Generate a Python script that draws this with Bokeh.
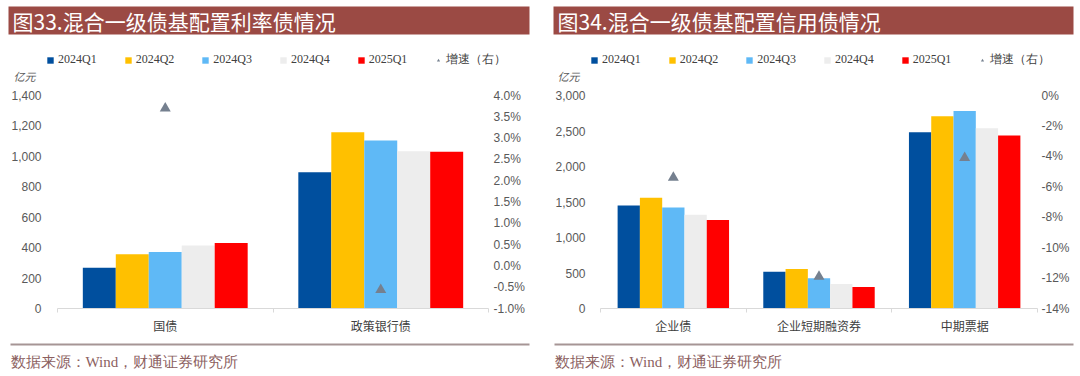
from bokeh.plotting import figure
from bokeh.models import (Range1d, LinearAxis, FixedTicker, Legend, LegendItem, Label,
                          BoxAnnotation, PrintfTickFormatter, NumeralTickFormatter,
                          ColumnDataSource)
from bokeh.layouts import row, column
from bokeh.embed import file_html
from bokeh.resources import INLINE

# ---------------- data ----------------
series_names = ["2024Q1", "2024Q2", "2024Q3", "2024Q4", "2025Q1"]
growth_name = "增速（右）"
series_colors = ["#004F9E", "#FFC000", "#5FB9F6", "#EDEDED", "#FF0000"]
growth_color = "#75808F"

rate_title = "图33.混合一级债基配置利率债情况"
rate_categories = ["国债", "政策银行债"]
rate_2024q1 = [268, 895]
rate_2024q2 = [357, 1159]
rate_2024q3 = [372, 1104]
rate_2024q4 = [414, 1034]
rate_2025q1 = [431, 1030]
rate_growth = [3.70, -0.56]
rate_left_ticks = [0, 200, 400, 600, 800, 1000, 1200, 1400]
rate_right_ticks = [-1.0, -0.5, 0.0, 0.5, 1.0, 1.5, 2.0, 2.5, 3.0, 3.5, 4.0]

credit_title = "图34.混合一级债基配置信用债情况"
credit_categories = ["企业债", "企业短期融资券", "中期票据"]
credit_2024q1 = [1451, 518, 2483]
credit_2024q2 = [1559, 555, 2707]
credit_2024q3 = [1423, 425, 2781]
credit_2024q4 = [1321, 345, 2539]
credit_2025q1 = [1246, 303, 2436]
credit_growth = [-5.4, -11.9, -4.1]
credit_left_ticks = [0, 500, 1000, 1500, 2000, 2500, 3000]
credit_right_ticks = [-14, -12, -10, -8, -6, -4, -2, 0]

unit_label = "亿元"
source_text = "数据来源：Wind，财通证券研究所"

TITLE_BG = "#9B4A44"
TICK_COLOR = "#595959"
AXIS_COLOR = "#D9D9D9"
BAR_W = 0.153
W = 540
HEAD_H, CHART_H, FOOT_H = 85, 251, 40
NAN = float("nan")


def blank_fig(h):
    f = figure(width=W, height=h, x_range=Range1d(0, W), y_range=Range1d(h, 0),
               x_axis_location=None, y_axis_location=None, toolbar_location=None,
               output_backend="svg", min_border=0, min_border_left=0, min_border_right=0,
               min_border_top=0, min_border_bottom=0, background_fill_color="white",
               border_fill_color="white", outline_line_color=None, frame_align=False)
    f.xgrid.visible = False
    f.ygrid.visible = False
    return f


def make_panel(title, cats, series, growth, left_ticks, right_ticks, right_fmt,
               head_l, head_r, frame_l, frame_r, foot_l, foot_r, std_l, std_r, leg_x, unit_x):
    # ---- header: title bar, legend, unit ----
    h = blank_fig(HEAD_H)
    h.add_layout(BoxAnnotation(left=head_l, right=head_r, top=6, bottom=34,
                               fill_color=TITLE_BG, fill_alpha=1.0, line_color=None))
    h.add_layout(Label(x=head_l + 4, y=20, text=title,
                       text_color="white", text_font_size="21px", text_font="Noto Sans CJK SC",
                       text_baseline="middle"))
    h.add_layout(Label(x=unit_x, y=75, text=unit_label, text_font="Noto Sans CJK SC",
                       text_font_size="11px", text_font_style="italic",
                       text_color=TICK_COLOR, text_baseline="middle"))
    # legend swatches (a single empty point; they only carry the series styles)
    proxies = [h.vbar(x=[NAN], top=[NAN], width=1, fill_color=c, line_color=None)
               for c in series_colors]
    gproxy = h.scatter(x=[NAN], y=[NAN], marker="triangle", size=8,
                       fill_color=growth_color, line_color=None)
    items = [LegendItem(label=nm, renderers=[r]) for nm, r in zip(series_names, proxies)]
    items.append(LegendItem(label=growth_name, renderers=[gproxy]))
    leg = Legend(items=items, orientation="horizontal", location=(leg_x, HEAD_H - 68),
                 glyph_width=8, glyph_height=8, label_height=14, label_standoff=4,
                 spacing=27, padding=0, margin=0, border_line_color=None,
                 background_fill_alpha=0, label_text_font="Liberation Serif",
                 label_text_font_size="12px", label_text_color="#404040")
    h.add_layout(leg, "center")

    # ---- chart ----
    n = len(cats)
    p = figure(width=W, height=CHART_H, x_range=Range1d(0, n),
               y_range=Range1d(left_ticks[0], left_ticks[-1]),
               toolbar_location=None, output_backend="svg",
               min_border_left=frame_l, min_border_right=W - frame_r,
               min_border_top=10, min_border_bottom=27,
               background_fill_color="white", border_fill_color="white",
               outline_line_color=None)
    p.extra_y_ranges = {"pct": Range1d(right_ticks[0], right_ticks[-1])}
    p.xgrid.visible = False
    p.ygrid.visible = False

    centers = [i + 0.5 for i in range(n)]
    for k, (vals, col) in enumerate(zip(series, series_colors)):
        src = ColumnDataSource(dict(x=[c + (k - 2) * BAR_W for c in centers], top=vals))
        p.vbar(x="x", top="top", bottom=0, width=BAR_W, source=src,
               fill_color=col, line_color=None)
    gsrc = ColumnDataSource(dict(x=centers, y=growth))
    p.scatter(x="x", y="y", source=gsrc, y_range_name="pct", marker="triangle",
              size=11, fill_color=growth_color, line_color=None)

    xa = p.xaxis[0]
    xa.ticker = FixedTicker(ticks=centers, minor_ticks=list(range(n + 1)))
    xa.major_label_overrides = {c: lab for c, lab in zip(centers, cats)}
    xa.axis_line_color = AXIS_COLOR
    xa.major_tick_line_color = None
    xa.major_tick_out = 0
    xa.minor_tick_line_color = AXIS_COLOR
    xa.minor_tick_out = 4
    xa.minor_tick_in = 0
    xa.major_label_standoff = 4
    xa.major_label_text_font = "Noto Sans CJK SC"
    xa.major_label_text_font_size = "12px"
    xa.major_label_text_color = "#404040"

    ya = p.yaxis[0]
    ya.ticker = FixedTicker(ticks=left_ticks)
    ya.formatter = NumeralTickFormatter(format="0,0")
    ya.axis_line_color = None
    ya.major_tick_line_color = None
    ya.minor_tick_line_color = None
    ya.major_tick_out = 0
    ya.major_label_standoff = std_l
    ya.major_label_text_font = "Liberation Sans"
    ya.major_label_text_font_size = "12px"
    ya.major_label_text_color = TICK_COLOR

    ra = LinearAxis(y_range_name="pct", ticker=FixedTicker(ticks=right_ticks),
                    formatter=PrintfTickFormatter(format=right_fmt))
    ra.axis_line_color = None
    ra.major_tick_line_color = None
    ra.minor_tick_line_color = None
    ra.major_tick_out = 0
    ra.major_label_standoff = std_r
    ra.major_label_text_font = "Liberation Sans"
    ra.major_label_text_font_size = "12px"
    ra.major_label_text_color = TICK_COLOR
    p.add_layout(ra, "right")

    # ---- footer ----
    f = blank_fig(FOOT_H)
    f.add_layout(BoxAnnotation(left=foot_l, right=foot_r, top=7, bottom=9,
                               fill_color="#A69595", fill_alpha=1.0, line_color=None))
    f.add_layout(Label(x=foot_l, y=25, text=source_text,
                       text_font="Liberation Serif", text_font_size="15px",
                       text_color="#8C5F5F", text_baseline="middle"))
    return column(h, p, f, spacing=0)


left = make_panel(rate_title, rate_categories,
                  [rate_2024q1, rate_2024q2, rate_2024q3, rate_2024q4, rate_2025q1],
                  rate_growth, rate_left_ticks, rate_right_ticks, "%.1f%%",
                  8, 529, 57, 488, 10, 529, 16, 5, 46, 13)
right = make_panel(credit_title, credit_categories,
                   [credit_2024q1, credit_2024q2, credit_2024q3, credit_2024q4, credit_2025q1],
                   credit_growth, credit_left_ticks, credit_right_ticks, "%d%%",
                   13, 533, 60, 497, 14, 533, 15, 4, 50, 17)

layout = row(left, right, spacing=0)
open("out.html", "w").write(file_html(layout, INLINE))
